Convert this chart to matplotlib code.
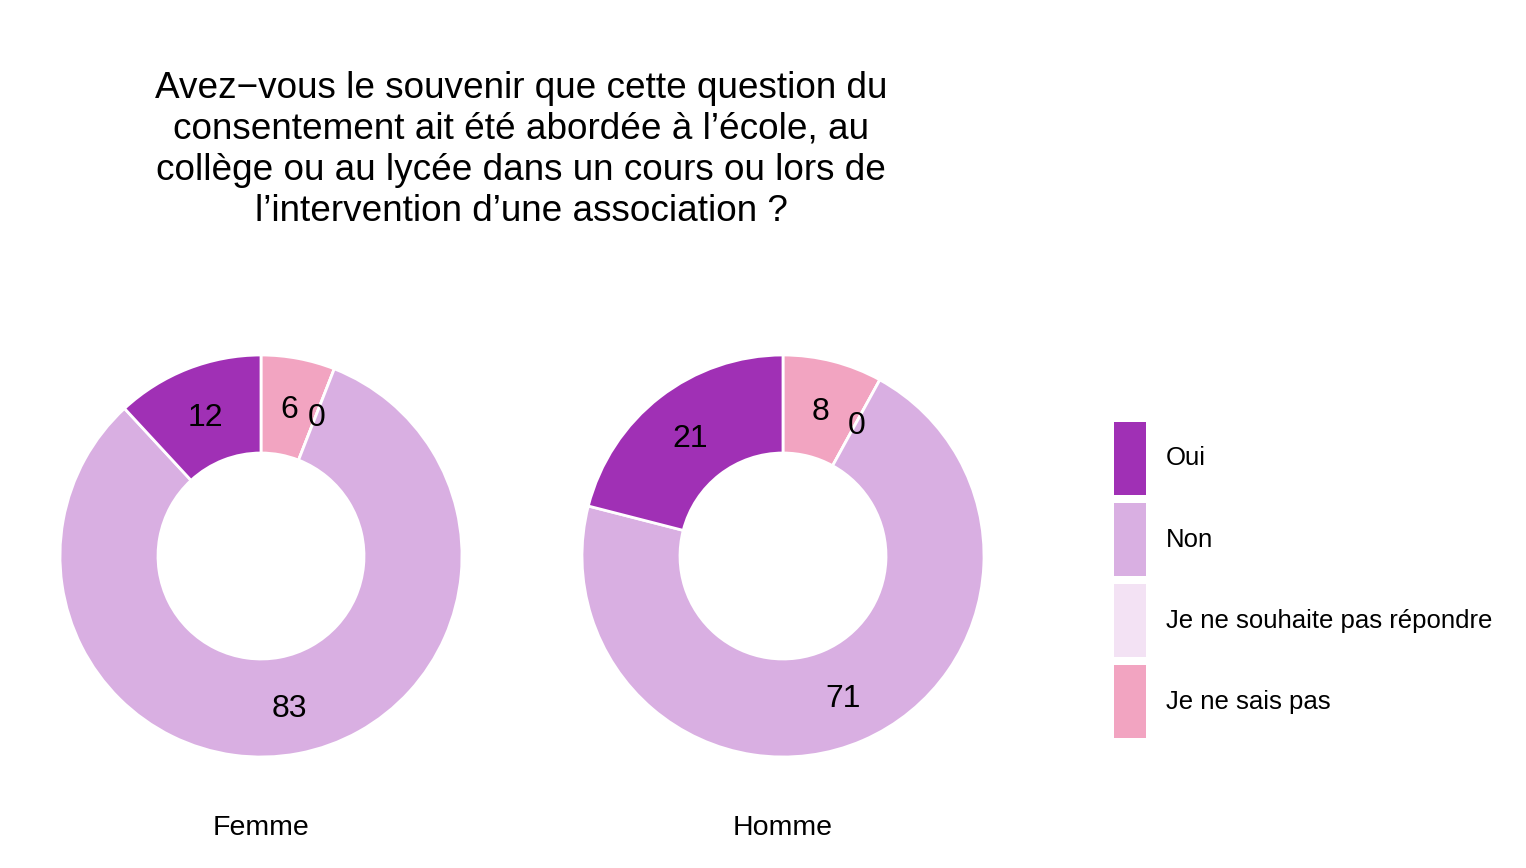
import matplotlib
matplotlib.use("Agg")
import matplotlib.pyplot as plt
import numpy as np
from matplotlib.patches import Patch

plt.rcParams['font.family'] = ['Liberation Sans', 'DejaVu Sans']

# data
categories = ['Oui', 'Non', 'Je ne souhaite pas répondre', 'Je ne sais pas']
colors = ['#A030B5', '#D9AFE2', '#F3E2F4', '#F2A4C1']
groups = ['Femme', 'Homme']
femme = [12, 83, 0, 6]
homme = [21, 71, 0, 8]
title = ("Avez\u2212vous le souvenir que cette question du\n"
         "consentement ait été abordée à l\u2019école, au\n"
         "collège ou au lycée dans un cours ou lors de\n"
         "l\u2019intervention d\u2019une association ?")

W, H = 1526, 868
fig = plt.figure(figsize=(W / 100, H / 100), dpi=100)

outer_r = 201
inner_r = 103
ring_w = (outer_r - inner_r) / outer_r
centers = [(261, 556), (783, 556)]

for name, vals, (cx, cy) in zip(groups, [femme, homme], centers):
    ax = fig.add_axes([(cx - outer_r) / W, 1 - (cy + outer_r) / H,
                       2 * outer_r / W, 2 * outer_r / H])
    # clockwise from 12 o'clock: reversed category order
    order = list(range(len(categories)))[::-1]
    wedges, _ = ax.pie([vals[i] for i in order], colors=[colors[i] for i in order],
                       startangle=90, counterclock=False, radius=1,
                       wedgeprops=dict(width=ring_w, edgecolor='white', linewidth=2))
    mid_r = 1 - ring_w / 2
    for w, i in zip(wedges, order):
        ang = np.deg2rad((w.theta1 + w.theta2) / 2)
        ax.text(mid_r * np.cos(ang), mid_r * np.sin(ang), str(vals[i]),
                ha='center', va='center_baseline', fontsize=23, color='black')
    ax.set_xlim(-1, 1)
    ax.set_ylim(-1, 1)
    ax.set_aspect('equal')
    ax.axis('off')
    fig.text(cx / W, 1 - 828 / H, name, ha='center', va='center', fontsize=20.5)

fig.text(521 / W, 1 - 150 / H, title, ha='center', va='center',
         multialignment='center', fontsize=26.6, linespacing=1.23)

handles = [Patch(facecolor=c, edgecolor='none') for c in colors]
fig.legend(handles, categories, loc='upper left', bbox_to_anchor=(1114 / W, 1 - 422 / H),
           frameon=False, fontsize=18.5, handlelength=1.25, handleheight=3.99,
           handletextpad=0.78, labelspacing=0.32, borderpad=0, borderaxespad=0)

fig.savefig('out.png', dpi=100)
